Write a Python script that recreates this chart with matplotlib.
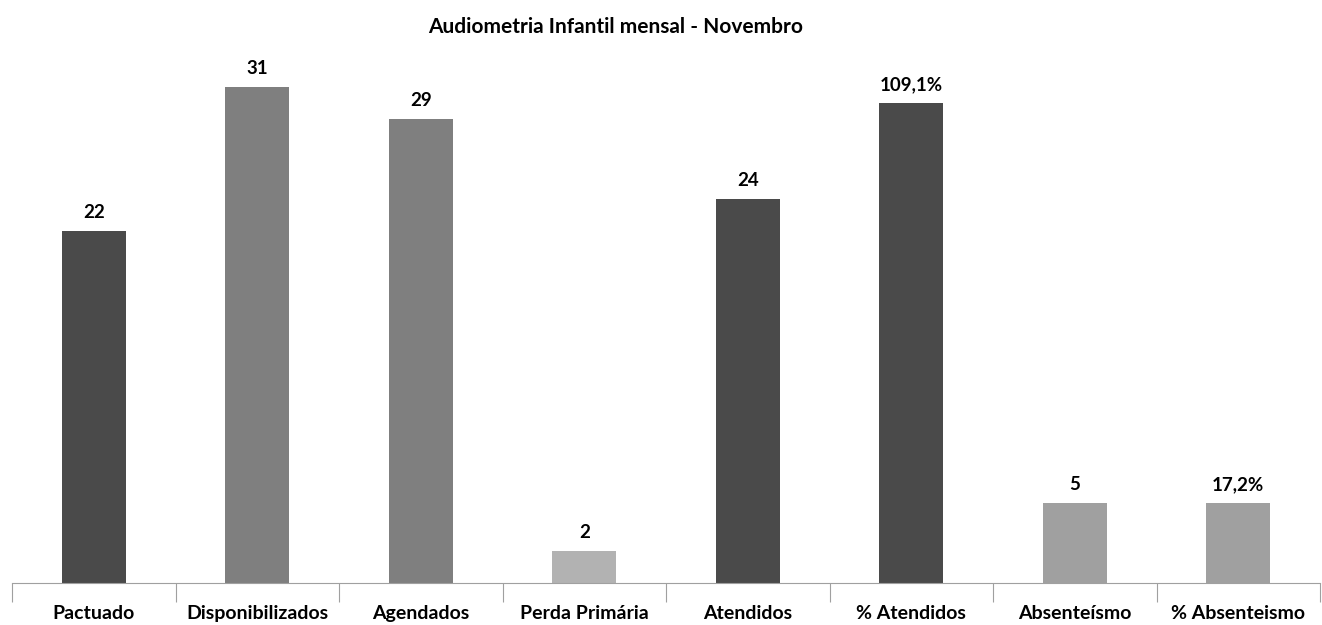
import matplotlib.pyplot as plt
import numpy as np

plt.rcParams['font.family'] = ['Lato', 'DejaVu Sans']

categories = ["Pactuado", "Disponibilizados", "Agendados", "Perda Primária",
              "Atendidos", "% Atendidos", "Absenteísmo", "% Absenteismo"]
heights = [22, 31, 29, 2, 24, 30, 5, 5]
value_labels = ["22", "31", "29", "2", "24", "109,1%", "5", "17,2%"]
colors = ["#4a4a4a", "#7f7f7f", "#7f7f7f", "#b2b2b2",
          "#4a4a4a", "#4a4a4a", "#a0a0a0", "#a0a0a0"]

fig = plt.figure(figsize=(13.22, 6.25), dpi=100)
ax = fig.add_axes([12/1322, 42/625, 1308/1322, 544/625])

x = np.arange(len(categories))
bars = ax.bar(x, heights, width=0.39, color=colors)
for b, lab in zip(bars, value_labels):
    ax.text(b.get_x() + b.get_width()/2, b.get_height() + 0.6, lab,
            ha='center', va='bottom', fontsize=13.5, fontweight='bold')

ax.set_xlim(-0.5, len(categories) - 0.5)
ax.set_ylim(0, 34)
ax.set_xticks(np.arange(-0.5, len(categories)), minor=False)
ax.set_xticklabels([])
ax.set_xticks(x, minor=True)
ax.set_xticklabels(categories, minor=True, fontsize=14, fontweight='bold')
ax.tick_params(axis='x', which='major', length=14, color='#a0a0a0')
ax.tick_params(axis='x', which='minor', length=0, pad=16)
ax.set_yticks([])
for s in ['top', 'right', 'left']:
    ax.spines[s].set_visible(False)
ax.spines['bottom'].set_color('#a0a0a0')

fig.text(616/1322, 1 - 27/625, "Audiometria Infantil mensal - Novembro",
         ha='center', va='center', fontsize=15, fontweight='bold')

fig.savefig("out.png", dpi=100)
